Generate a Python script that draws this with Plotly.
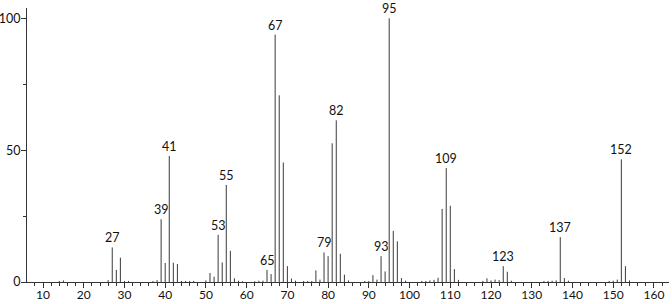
import plotly.graph_objects as go

mz = [14, 15, 26, 27, 28, 29, 30, 31, 37, 38, 39, 40, 41, 42, 43, 44, 45, 46, 47,
      50, 51, 52, 53, 54, 55, 56, 57, 58, 59, 62, 63, 64, 65, 66, 67, 68, 69, 70,
      71, 72, 74, 75, 76, 77, 78, 79, 80, 81, 82, 83, 84, 85, 89, 90, 91, 92, 93,
      94, 95, 96, 97, 98, 99, 103, 104, 105, 106, 107, 108, 109, 110, 111, 112,
      118, 119, 120, 121, 122, 123, 124, 125, 133, 134, 135, 136, 137, 138, 139,
      149, 150, 151, 152, 153, 154]
intensity = [0.4, 0.6, 0.7, 13.1, 4.6, 9.2, 0.4, 0.4, 0.4, 0.7, 23.8, 7.2, 47.8, 7.3, 6.8, 0.4, 0.4, 0.4, 0.4,
             0.6, 3.4, 2.0, 17.9, 7.4, 36.8, 11.8, 1.4, 0.5, 0.3, 0.3, 0.5, 0.5, 4.6, 3.0, 93.8, 70.8, 45.3, 6.0,
             1.3, 0.5, 0.4, 0.4, 0.4, 4.4, 0.9, 11.2, 9.8, 52.6, 61.3, 10.7, 2.8, 0.6, 0.4, 0.4, 2.6, 0.9, 9.8,
             4.0, 100.0, 19.4, 15.4, 1.5, 0.5, 0.4, 0.4, 0.6, 0.8, 1.6, 27.7, 43.2, 28.9, 4.9, 0.8,
             0.4, 1.4, 0.6, 0.9, 0.7, 6.0, 3.9, 0.5, 0.4, 0.4, 0.5, 0.6, 17.0, 1.5, 0.5,
             0.4, 0.5, 0.9, 46.5, 6.0, 0.6]
labeled = [27, 39, 41, 53, 55, 65, 67, 79, 82, 93, 95, 109, 123, 137, 152]
x_ticks = list(range(10, 161, 10))
y_ticks = [0, 50, 100]

FONT = "Lato"

xs, ys = [], []
for m, v in zip(mz, intensity):
    xs += [m, m, None]
    ys += [0, v, None]

fig = go.Figure()
fig.add_trace(go.Scatter(x=xs, y=ys, mode="lines",
                         line=dict(color="#3a3a3a", width=1),
                         hoverinfo="skip", showlegend=False, cliponaxis=False))

lookup = dict(zip(mz, intensity))
for m in labeled:
    fig.add_annotation(x=m, y=lookup[m], text=str(m), showarrow=False,
                       yanchor="bottom", xanchor="center", yshift=0,
                       font=dict(family=FONT, size=12.5, color="#111"))

fig.update_layout(
    width=672, height=304,
    margin=dict(l=27, r=3, t=8, b=22, autoexpand=False),
    paper_bgcolor="white", plot_bgcolor="white",
    font=dict(family=FONT, size=12, color="#111"),
    xaxis=dict(range=[6.07, 163.7], showgrid=False, zeroline=False,
               automargin=False,
               showline=True, linecolor="#333", linewidth=1,
               tickmode="array", tickvals=x_ticks,
               ticks="outside", ticklen=5, tickcolor="#333",
               ticklabelstandoff=-3,
               minor=dict(dtick=2, tick0=0, ticks="outside", ticklen=3, tickcolor="#333"),
               tickfont=dict(family=FONT, size=12, color="#111")),
    yaxis=dict(range=[0, 103.9], showgrid=False, zeroline=False,
               automargin=False,
               showline=True, linecolor="#333", linewidth=1,
               tickmode="array", tickvals=y_ticks,
               ticks="outside", ticklen=5, tickcolor="#333",
               ticklabelstandoff=-2,
               minor=dict(dtick=25, tick0=0, ticks="outside", ticklen=3, tickcolor="#333"),
               tickfont=dict(family=FONT, size=12.5, color="#111")),
)

fig.write_html("out.html")
